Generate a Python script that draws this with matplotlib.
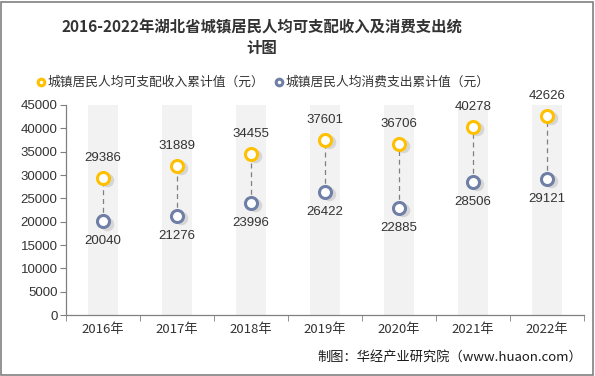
import matplotlib
matplotlib.use("Agg")
import matplotlib.pyplot as plt
from matplotlib.patches import Rectangle

plt.rcParams['font.family'] = ['Noto Sans CJK SC', 'DejaVu Sans']

years = ["2016年", "2017年", "2018年", "2019年", "2020年", "2021年", "2022年"]
income = [29386, 31889, 34455, 37601, 36706, 40278, 42626]
expense = [20040, 21276, 23996, 26422, 22885, 28506, 29121]
yticks = [0, 5000, 10000, 15000, 20000, 25000, 30000, 35000, 40000, 45000]

W, H = 595, 376
fig = plt.figure(figsize=(W/100, H/100), dpi=100)
fig.patch.set_facecolor('white')
ax = fig.add_axes([66/W, 1-315/H, (584-66)/W, (315-105)/H])

x = list(range(len(years)))
ax.bar(x, [45000]*len(x), width=0.4, color='#f2f2f2', zorder=0)
for xi, a, b in zip(x, income, expense):
    ax.plot([xi, xi], [b, a], color='#808080', lw=0.9, ls=(0, (4, 3)), zorder=1)
# shadows
ax.scatter([xi+0.05 for xi in x], [v-450 for v in income], s=95, color='#bbbbbb', alpha=0.5, lw=0, zorder=2)
ax.scatter([xi+0.05 for xi in x], [v-450 for v in expense], s=95, color='#bbbbbb', alpha=0.5, lw=0, zorder=2)
ax.scatter(x, income, s=75, facecolor='white', edgecolor='#FFC000', lw=2.2, zorder=3,
           label='城镇居民人均可支配收入累计值（元）')
ax.scatter(x, expense, s=75, facecolor='white', edgecolor='#6F7FA6', lw=2.2, zorder=3,
           label='城镇居民人均消费支出累计值（元）')
for xi, a, b in zip(x, income, expense):
    ax.annotate(f"{a}", (xi, a), xytext=(0, 10), textcoords='offset points',
                ha='center', va='bottom', fontsize=9.5, color='#333333', family=['Liberation Sans', 'DejaVu Sans'])
    ax.annotate(f"{b}", (xi, b), xytext=(0, -10), textcoords='offset points',
                ha='center', va='top', fontsize=9.5, color='#333333', family=['Liberation Sans', 'DejaVu Sans'])

ax.set_xlim(-0.5, len(x)-0.5)
ax.set_ylim(0, 45000)
ax.set_yticks(yticks)
ax.set_yticklabels([str(v) for v in yticks], family=['Liberation Sans', 'DejaVu Sans'], fontsize=9.5, color='#333333')
ax.set_xticks(x)
ax.set_xticklabels(years, fontsize=9.5, color='#333333')
ax.set_xticks([i-0.5 for i in range(len(x)+1)], minor=True)
ax.tick_params(axis='x', which='major', length=0, pad=6)
ax.tick_params(axis='x', which='minor', length=4, color='#808080')
ax.tick_params(axis='y', length=4, color='#808080', pad=2)
for s in ['top', 'right']:
    ax.spines[s].set_visible(False)
for s in ['left', 'bottom']:
    ax.spines[s].set_color('#808080')
    ax.spines[s].set_linewidth(0.9)

fig.text(262/W, 1-28/H, '2016-2022年湖北省城镇居民人均可支配收入及消费支出统', ha='center', va='center',
         fontsize=11.1, fontweight='bold', color='#333333')
fig.text(262/W, 1-48/H, '计图', ha='center', va='center', fontsize=11.1, fontweight='bold', color='#333333')

leg = fig.legend(loc='center', bbox_to_anchor=(262/W, 1-82/H), ncol=2, frameon=False,
                 fontsize=9.2, handletextpad=0.05, columnspacing=0.6, markerscale=0.55, handlelength=1)
for t in leg.get_texts():
    t.set_color('#333333')

fig.text(582/W, 1-357/H, '制图：华经产业研究院（www.huaon.com）', ha='right', va='center',
         fontsize=9.5, color='#1a1a1a')

fig.add_artist(Rectangle((1/W, 1/H), (W-3)/W, (H-3)/H, transform=fig.transFigure,
                         fill=False, edgecolor='#808080', lw=1.2))

fig.savefig('out.png', dpi=100, facecolor='white')
